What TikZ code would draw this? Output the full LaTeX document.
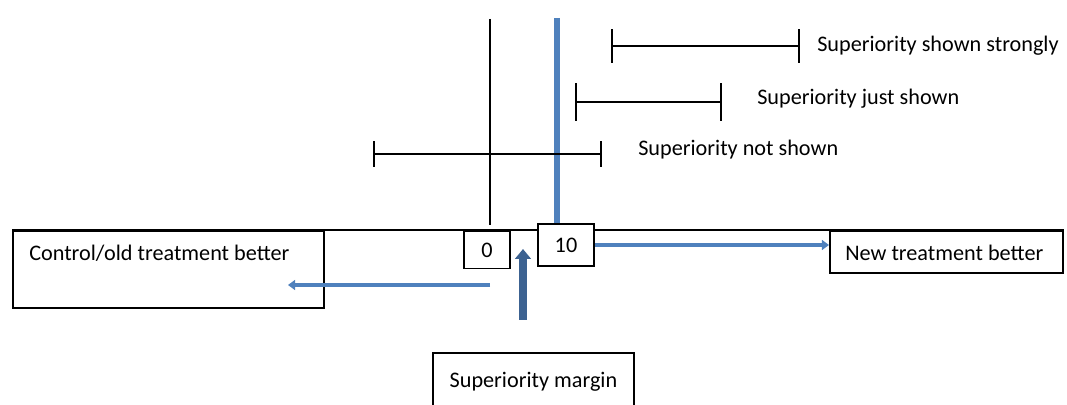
\documentclass[tikz,border=0pt]{standalone}
\usepackage{fontspec}
\setmainfont{Carlito}
\usetikzlibrary{arrows.meta}

\definecolor{lineblue}{RGB}{79,129,189}
\definecolor{marginblue}{RGB}{60,98,145}

\begin{document}
\begin{tikzpicture}[x=0.025cm,y=-0.025cm,font=\fontsize{15.8}{18}\selectfont,
  box/.style={draw,line width=1.3pt,fill=white,inner sep=0pt},
  lab/.style={anchor=west,inner sep=0pt},
  ci/.style={line width=1.4pt},
  bluearrow/.style={draw=lineblue,line width=3.4pt,-{Triangle[length=5pt,width=7pt]}},
  marginarrow/.style={draw=marginblue,line width=5.6pt,-{Triangle[length=7pt,width=11pt]}}]
  \useasboundingbox (0,0) rectangle (1067,405);

  \node[box,anchor=north west,minimum width=7.775cm,minimum height=1.925cm] (oldbox) at (12,230) {};
  \node[lab] (oldtext) at (29,253) {Control/old treatment better};
  \node[box,anchor=north west,minimum width=5.825cm,minimum height=1.05cm] (newbox) at (829,230) {};
  \node[lab] (newtext) at (845,253) {New treatment better};
  \draw[line width=1.3pt] (oldbox.north west) -- (newbox.north east);

  \draw[line width=1.3pt] (490,19) -- (490,225);
  \draw[draw=lineblue,line width=4.6pt] (557,18) -- (557,223);

  \node[box,minimum width=1.15cm,minimum height=0.925cm] (zero) at (487,250) {0};
  \node[box,minimum width=1.4cm,minimum height=1.05cm] (ten) at (566,245) {10};

  % confidence intervals
  \draw[ci,{Bar[width=24pt]}-{Bar[width=24pt]}] (611,46) -- (800,46);
  \node[lab] (strong) at (817,46) {Superiority shown strongly};
  \draw[ci,{Bar[width=27pt]}-{Bar[width=27pt]}] (575,102) -- (722,102);
  \node[lab] (just) at (757,99) {Superiority just shown};
  \draw[ci,{Bar[width=18pt]}-{Bar[width=18pt]}] (373,154) -- (602,154);
  \draw[line width=1.9pt] (423,154) -- (478,154);
  \node[lab] (notshown) at (638,150) {Superiority not shown};

  \draw[bluearrow] (ten.east) -- (ten.east -| newbox.west);
  \coordinate (oldstart) at (490,285);
  \draw[bluearrow] (oldstart) -- (288,285);

  \node[box,anchor=north west,minimum width=5.025cm,minimum height=1.45cm] (margin) at (432,352) {Superiority margin};
  \coordinate (marginfoot) at (523,320);
  \draw[marginarrow] (marginfoot) -- (523,249);
\end{tikzpicture}
\end{document}
